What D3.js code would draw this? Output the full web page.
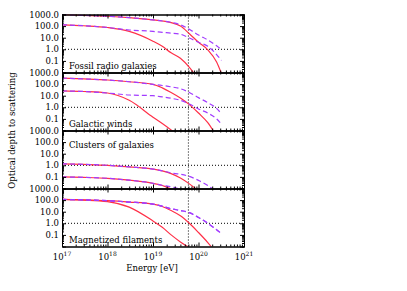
<!DOCTYPE html>
<html><head><meta charset="utf-8">
<script src="https://cdn.jsdelivr.net/npm/d3@7"></script>
<style>body{margin:0;background:#fff}svg{display:block}text{font-family:"DejaVu Serif",serif;fill:#000}</style>
</head><body>
<script>
// Energy grid (eV)
const energies = [1e17, 3e17, 1e18, 3e18, 1e19, 1.6e19, 2.5e19, 4e19, 6.3e19, 1e20, 1.6e20, 2.5e20, 3.2e20];
const panelNames = ["Fossil radio galaxies", "Galactic winds", "Clusters of galaxies", "Magnetized filaments"];
const panelLabelPos = ["bottom", "bottom", "top", "bottom"];

// Optical depths (null = not drawn)
const fossilSolidHi = [1000, 850, 710, 540, 340, 275, 200, 100, 22, 4.0, 0.9, 0.08, 0.008];
const fossilSolidLo = [130, 107, 76, 35, 5.0, 1.8, 0.5, 0.17, 0.028, 0.0025, null, null, null];
const fossilDashHi  = [1000, 850, 710, 540, 340, 275, 210, 130, 52, 17, 6.3, 2.0, 0.9];
const fossilDashLo  = [130, 107, 76, 46, 35, 29, 25, 20, 9.5, 4.0, 1.8, 0.35, 0.11];

const windsSolidHi = [330, 280, 225, 160, 95, 47, 19, 6.3, 1.7, 0.32, 0.047, 0.0032, null];
const windsSolidLo = [26, 23, 17, 4.0, 0.14, 0.04, 0.011, 0.0025, null, null, null, null, null];
const windsDashHi  = [330, 280, 225, 160, 95, 76, 58, 40, 19, 6.8, 2.5, 0.8, 0.28];
const windsDashLo  = [26, 23, 17, 11.5, 10, 7.9, 6.0, 4.0, 1.9, 0.71, 0.32, 0.1, 0.035];

const clustersSolidHi = [1.35, 1.2, 1.0, 0.72, 0.47, 0.33, 0.19, 0.08, 0.025, 0.0063, null, null, null];
const clustersSolidLo = [0.1, 0.091, 0.076, 0.052, 0.028, 0.018, 0.0089, null, null, null, null, null, null];
const clustersDashHi  = [1.35, 1.2, 1.0, 0.72, 0.47, 0.33, 0.22, 0.17, 0.11, 0.05, 0.018, 0.005, null];
const clustersDashLo  = [0.1, 0.091, 0.076, 0.052, 0.028, 0.019, 0.014, 0.0089, null, null, null, null, null];

const filamentsSolidHi = [115, 105, 89, 68, 45, 28, 12.6, 4.5, 1.0, 0.16, 0.022, 0.0025, null];
const filamentsSolidLo = [115, 100, 74, 25, 1.6, 0.45, 0.1, 0.025, 0.008, null, null, null, null];
const filamentsDashHi  = [115, 105, 89, 68, 45, 30, 18, 12.6, 8.3, 3.2, 1.0, 0.28, 0.13];
const filamentsDashLo  = [115, 105, 89, 68, 45, 30, 18, 12.6, 8.3, 3.2, 1.0, 0.28, 0.13];

const panelSeries = [
  {solid: [fossilSolidHi, fossilSolidLo], dashed: [fossilDashHi, fossilDashLo]},
  {solid: [windsSolidHi, windsSolidLo], dashed: [windsDashHi, windsDashLo]},
  {solid: [clustersSolidHi, clustersSolidLo], dashed: [clustersDashHi, clustersDashLo]},
  {solid: [filamentsSolidHi, filamentsSolidLo], dashed: [filamentsDashHi, filamentsDashLo]}
];

const yTickVals = [0.1, 1, 10, 100, 1000];
const yTickLabels = ["0.1", "1.0", "10.0", "100.0", "1000.0"];
const xTickVals = [1e17, 1e18, 1e19, 1e20, 1e21];
const xTickExp = ["17", "18", "19", "20", "21"];
const gzkEnergy = 6e19;

const W = 407, H = 291;
const L = 62, R = 244, T = 14.5, PH = 58;
const RED = "#ff3048", PURPLE = "#a23cff";

const svg = d3.select("body").append("svg").attr("width", W).attr("height", H);
svg.append("rect").attr("width", W).attr("height", H).attr("fill", "#fff");

const x = d3.scaleLog().domain([1e17, 1e21]).range([L, R]);
const xMinor = [];
for (let d = 17; d < 21; d++) for (let m = 2; m <= 9; m++) xMinor.push(m * Math.pow(10, d));
const yMinor = [];
for (let d = -2; d < 3; d++) for (let m = 2; m <= 9; m++) yMinor.push(m * Math.pow(10, d));

const defs = svg.append("defs");
const labelLayer = svg.append("g");

panelSeries.forEach((ps, i) => {
  const top = T + i * PH, bot = top + PH;
  const y = d3.scaleLog().domain([0.01, 1000]).range([bot, top]);
  const g = svg.append("g");
  defs.append("clipPath").attr("id", "clip" + i).append("rect")
    .attr("x", L).attr("y", top).attr("width", R - L).attr("height", PH);

  // reference dotted lines
  g.append("line").attr("x1", L).attr("x2", R).attr("y1", y(1)).attr("y2", y(1))
    .attr("stroke", "#000").attr("stroke-width", 1).attr("stroke-dasharray", "1,2");
  g.append("line").attr("x1", x(gzkEnergy)).attr("x2", x(gzkEnergy)).attr("y1", top).attr("y2", bot)
    .attr("stroke", "#000").attr("stroke-width", 1).attr("stroke-dasharray", "1,2");

  const line = d3.line()
    .defined(d => d[1] != null)
    .x(d => x(d[0])).y(d => y(d[1]))
    .curve(d3.curveMonotoneX);
  const cg = g.append("g").attr("clip-path", `url(#clip${i})`);
  ps.solid.forEach(s => {
    cg.append("path").attr("d", line(energies.map((e, k) => [e, s[k]])))
      .attr("fill", "none").attr("stroke", RED).attr("stroke-width", 1.2);
  });
  ps.dashed.forEach(s => {
    cg.append("path").attr("d", line(energies.map((e, k) => [e, s[k]])))
      .attr("fill", "none").attr("stroke", PURPLE).attr("stroke-width", 1.2)
      .attr("stroke-dasharray", "5,3");
  });

  // axes (ticks inward)
  const styleAxis = sel => {
    sel.select(".domain").attr("stroke", "#000").attr("stroke-width", 1);
    sel.selectAll(".tick line").attr("stroke", "#000").attr("stroke-width", 1);
  };
  const addAxis = (gen, tx, ty, vals, size) => {
    g.append("g").attr("transform", `translate(${tx},${ty})`)
      .call(gen.tickValues(vals).tickSize(size).tickFormat(""))
      .call(styleAxis);
  };
  addAxis(d3.axisLeft(y), L, 0, yTickVals, -4);
  addAxis(d3.axisLeft(y), L, 0, yMinor, -2);
  addAxis(d3.axisRight(y), R, 0, yTickVals, -4);
  addAxis(d3.axisRight(y), R, 0, yMinor, -2);
  addAxis(d3.axisBottom(x), 0, bot, xTickVals, -4);
  addAxis(d3.axisBottom(x), 0, bot, xMinor, -2);
  addAxis(d3.axisTop(x), 0, top, xTickVals, -4);
  addAxis(d3.axisTop(x), 0, top, xMinor, -2);

  // left tick labels
  yTickVals.forEach((v, k) => {
    labelLayer.append("text").attr("x", L - 3).attr("y", y(v) + 3)
      .attr("text-anchor", "end").attr("font-size", 8.5).text(yTickLabels[k]);
  });

  // panel label
  g.append("text").attr("x", 69)
    .attr("y", panelLabelPos[i] === "bottom" ? bot - 3.5 : top + 17.5)
    .attr("font-size", 8.5).text(panelNames[i]);
});

// x tick labels with superscripts
const xl = svg.append("g");
xTickVals.forEach((v, k) => {
  const t = xl.append("text").attr("x", x(v)).attr("y", 260).attr("text-anchor", "middle").attr("font-size", 8.5);
  t.append("tspan").text("10");
  t.append("tspan").attr("dy", -4).attr("font-size", 6).text(xTickExp[k]);
});

svg.append("text").attr("x", 152).attr("y", 271).attr("text-anchor", "middle")
  .attr("font-size", 8.5).text("Energy [eV]");
svg.append("text").attr("transform", `translate(15,${T + 2 * PH}) rotate(-90)`)
  .attr("text-anchor", "middle").attr("font-size", 8.5).text("Optical depth to scattering");
</script>
</body></html>
